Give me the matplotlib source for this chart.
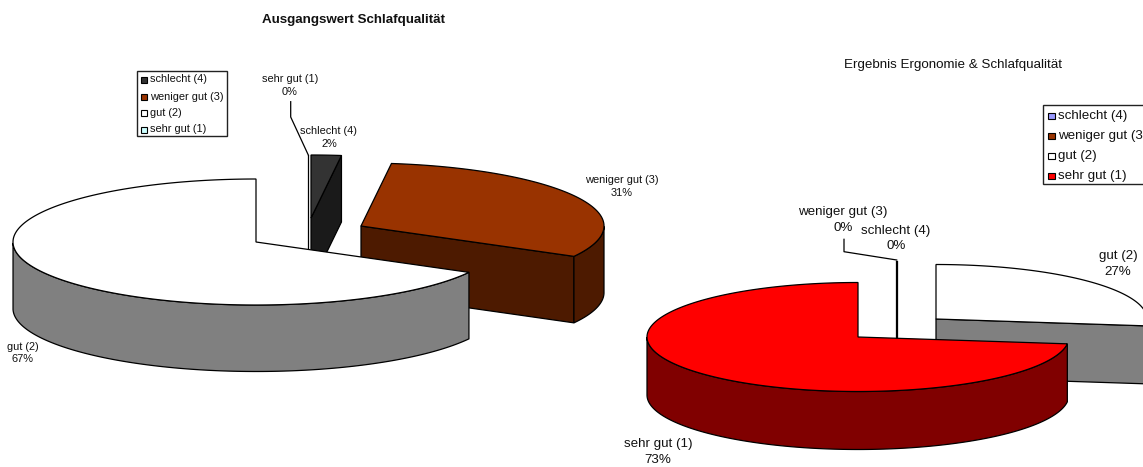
import numpy as np
import matplotlib
matplotlib.use('Agg')
import matplotlib.pyplot as plt
from matplotlib.patches import Polygon, Rectangle

plt.rcParams['font.family'] = ['Liberation Sans', 'DejaVu Sans']

categories_left = ['schlecht (4)', 'weniger gut (3)', 'gut (2)', 'sehr gut (1)']
percent_left = [2, 31, 67, 0]
top_left = ['#333333', '#993300', '#ffffff', '#ccffff']
wall_left = ['#1a1a1a', '#4d1a00', '#808080', '#668080']

categories_right = ['schlecht (4)', 'weniger gut (3)', 'gut (2)', 'sehr gut (1)']
percent_right = [0, 0, 27, 73]
top_right = ['#9999ff', '#993300', '#ffffff', '#ff0000']
wall_right = ['#4d4d80', '#4d1a00', '#808080', '#800000']

title_left = 'Ausgangswert Schlafqualität'
title_right = 'Ergebnis Ergonomie & Schlafqualität'

W, H = 1143, 467
EDGE = 0.9


def arc(cx, cy, rx, ry, t0, t1):
    t = np.radians(np.linspace(t0, t1, 240))
    return np.column_stack([cx + rx * np.cos(t), cy - ry * np.sin(t)])


def draw_slice(ax, cx, cy, rx, ry, depth, t0, t1, top, wall):
    # t0 > t1, the pie runs clockwise from 12 o'clock
    apex = np.array([cx, cy])
    drop = np.array([0, depth])
    # a 0% slice is only a line: rim point, apex, and the edge below it.
    # zorder 1 keeps it in paint order with the patches
    if t0 == t1:
        p = arc(cx, cy, rx, ry, t0, t0)[0]
        ax.plot([p[0], cx, cx], [p[1], cy, cy + depth], color='black', lw=EDGE, zorder=1)
        return
    # cut faces that look towards the viewer
    for t in (t0, t1):
        visible = np.cos(np.radians(t)) > 1e-6 if t == t1 else np.cos(np.radians(t)) < -1e-6
        if visible:
            p = arc(cx, cy, rx, ry, t, t)[0]
            ax.add_patch(Polygon([apex, p, p + drop, apex + drop], fc=wall, ec='black', lw=EDGE))
    # outer wall, lower half of the ellipse only
    pts = arc(cx, cy, rx, ry, t0, t1)
    ts = np.linspace(t0, t1, 240)
    low = np.sin(np.radians(ts)) < 0
    if low.any():
        rim = pts[low]
        ax.add_patch(Polygon(np.vstack([rim, rim[::-1] + drop]), fc=wall, ec='black', lw=EDGE))
    ax.add_patch(Polygon(np.vstack([apex, pts]), fc=top, ec='black', lw=EDGE, joinstyle='miter'))


def draw_pie(ax, percent, centers, rx, ry, depth, tops, walls):
    start = 90.0
    slices = []
    for i, p in enumerate(percent):
        end = start - p * 3.6
        slices.append((centers[i], start, end, tops[i], walls[i]))
        start = end
    # back to front
    for (cx, cy), t0, t1, top, wall in sorted(slices, key=lambda s: s[0][1]):
        draw_slice(ax, cx, cy, rx, ry, depth, t0, t1, top, wall)


def draw_legend(ax, x0, y0, x1, y1, names, colors, swatch_x, text_x, rows, size, sw):
    ax.add_patch(Rectangle((x0, y0), x1 - x0, y1 - y0, fc='white', ec='#222222', lw=1.0, zorder=5))
    for name, c, y in zip(names, colors, rows):
        ax.add_patch(Rectangle((swatch_x, y - sw / 2), sw, sw, fc=c, ec='black', lw=0.8, zorder=6))
        ax.text(text_x, y, name, fontsize=size, va='center', ha='left', color='#111111', zorder=6)


fig = plt.figure(figsize=(W / 100, H / 100), dpi=100)
ax = fig.add_axes([0, 0, 1, 1])
ax.set_xlim(0, W)
ax.set_ylim(H, 0)
ax.axis('off')

# left pie, every slice pulled out on its own
centers_left = [(311, 218), (361, 226), (256, 242), (308, 218)]
draw_pie(ax, percent_left, centers_left, 243, 63, 66.5, top_left, wall_left)

# right pie
centers_right = [(897, 315), (896, 315), (936, 319), (858, 337)]
draw_pie(ax, percent_right, centers_right, 211, 54.5, 58, top_right, wall_right)

# leader lines of the zero slices
ax.plot([290.7, 290.7, 308.3], [101.7, 117, 155], color='black', lw=EDGE)
ax.plot([844, 844, 896.7], [239.3, 251.7, 260], color='black', lw=EDGE)

ax.text(353, 20, title_left, fontsize=9.6, fontweight='bold', ha='center', va='center', color='#111111')
ax.text(953, 65, title_right, fontsize=9.6, ha='center', va='center', color='#111111')

small = 7.9
large = 9.6
labels_left = [(329, 137.5), (622, 186.5), (22.5, 353), (290, 85.5)]
for name, p, (x, y) in zip(categories_left, percent_left, labels_left):
    ax.text(x, y, f'{name}\n{p}%', fontsize=small, ha='center', va='center', linespacing=1.33, color='#111111')
labels_right = [(896, 238.5), (843, 220), (1118, 264), (658, 452)]
for name, p, (x, y) in zip(categories_right, percent_right, labels_right):
    ax.text(x, y, f'{name}\n{p}%', fontsize=large, ha='center', va='center', linespacing=1.4, color='#111111')

draw_legend(ax, 136.7, 70.5, 227, 136, categories_left, top_left, 140.7, 150, [79.5, 96.5, 112.5, 129.5], small, 6)
draw_legend(ax, 1043, 105, 1160, 184, categories_right, top_right, 1048, 1058, [116, 136, 156, 176], large, 6.5)

fig.savefig('out.png', dpi=100)
